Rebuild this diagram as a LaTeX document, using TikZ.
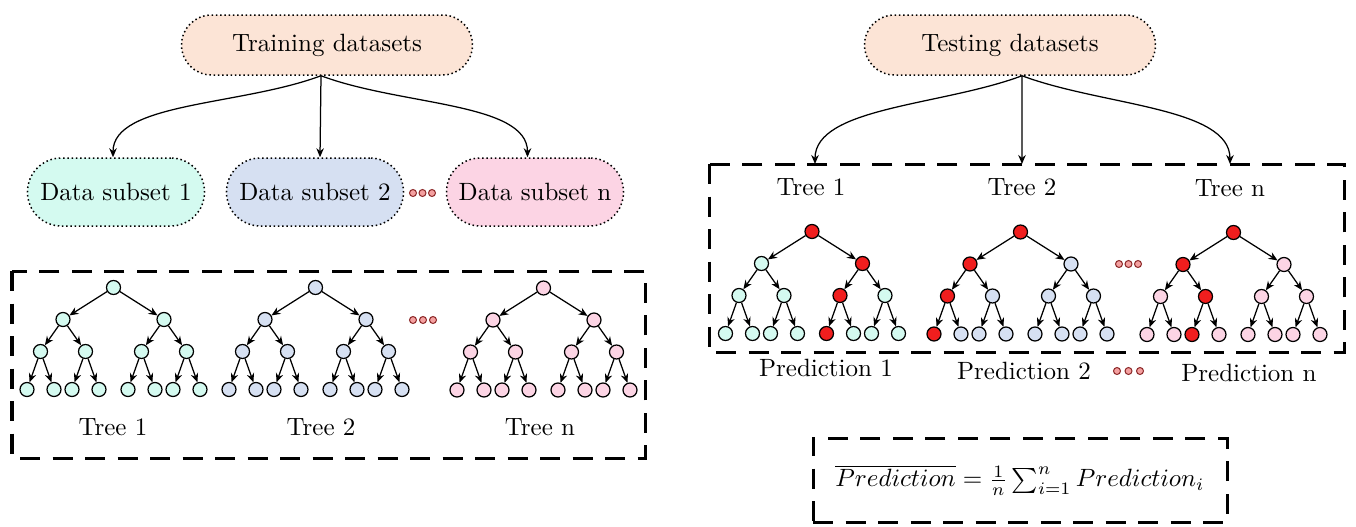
\documentclass[tikz,border=0pt]{standalone}
\usetikzlibrary{arrows.meta,calc}
\definecolor{peach}{RGB}{252,228,214}
\definecolor{cyanl}{RGB}{212,250,240}
\definecolor{bluel}{RGB}{214,224,242}
\definecolor{pinkl}{RGB}{252,212,228}
\definecolor{treered}{RGB}{240,30,30}
\definecolor{dotfill}{RGB}{244,160,160}
\definecolor{dotline}{RGB}{140,40,40}
\tikzset{
  tn/.style={circle,draw,line width=0.5pt,minimum size=5.6pt,inner sep=0pt},
  arr/.style={-{Stealth[length=3.6pt,width=3pt]},line width=0.5pt},
  dotted border/.style={draw,line width=0.6pt,dash pattern=on 0.6pt off 1.1pt},
  topnode/.style={dotted border,rounded corners=12pt,fill=peach,minimum width=116.4pt,minimum height=24pt,inner sep=0pt},
  dsnode/.style={dotted border,rounded corners=13.5pt,minimum width=70.8pt,minimum height=27.2pt,inner sep=0pt},
  bigbox/.style={line width=1.2pt,dash pattern=on 8pt off 5pt},
  dotn/.style={circle,draw=dotline,fill=dotfill,line width=0.4pt,minimum size=2.8pt,inner sep=0pt},
}
\newcommand\setred[1]{\expandafter\def\csname red#1\endcsname{}}
\newcommand\colfor[3]{\ifcsname red#1#2\endcsname\def\tf{treered}\else\def\tf{#3}\fi}
\newcommand{\drawtree}[4]{%
  \colfor{#1}{}{#4}%
  \node[tn,fill=\tf] (#1) at (#2,#3) {};
  \foreach \ka/\xa in {a/-50.5,b/50.5}{
    \colfor{#1}{\ka}{#4}
    \node[tn,fill=\tf] (#1\ka) at ($(#1)+(\xa,32)$) {};
    \draw[arr] (#1) -- (#1\ka);
    \foreach \kb/\xb in {a/-22.5,b/22.5}{
      \colfor{#1}{\ka\kb}{#4}
      \node[tn,fill=\tf] (#1\ka\kb) at ($(#1\ka)+(\xb,32)$) {};
      \draw[arr] (#1\ka) -- (#1\ka\kb);
      \foreach \kc/\xc in {a/-13.5,b/13.5}{
        \colfor{#1}{\ka\kb\kc}{#4}
        \node[tn,fill=\tf] (#1\ka\kb\kc) at ($(#1\ka\kb)+(\xc,38)$) {};
        \draw[arr] (#1\ka\kb) -- (#1\ka\kb\kc);
      }
    }
  }
}
\setred{P}\setred{Pb}\setred{Pba}\setred{Pbaa}
\setred{Q}\setred{Qa}\setred{Qaa}\setred{Qaaa}
\setred{R}\setred{Ra}\setred{Rab}\setred{Raba}
\begin{document}
\begin{tikzpicture}[x=0.4pt,y=-0.4pt]
\useasboundingbox (0,0) rectangle (1356,527);
% top nodes
\node[topnode] (train) at (327,45) {Training datasets};
\node[topnode] (test) at (1010,45) {Testing datasets};
% data subsets
\node[dsnode,fill=cyanl] (ds1) at (116,192) {Data subset 1};
\node[dsnode,fill=bluel] (ds2) at (315,192) {Data subset 2};
\node[dsnode,fill=pinkl] (dsn) at (535,192) {Data subset n};
\node[dotn] (t1) at (413,193) {};
\node[dotn] (t2) at (422.5,193) {};
\node[dotn] (t3) at (432,193) {};
% training connectors
\draw[arr] ([xshift=-2.4pt]train.south) .. controls +(-80,30) and +(0,-55) .. ([xshift=-1.2pt]ds1.north);
\draw[arr] ([xshift=-2.4pt]train.south) -- ([xshift=2pt]ds2.north);
\draw[arr] ([xshift=-2.4pt]train.south) .. controls +(80,30) and +(0,-55) .. ([xshift=-3pt]dsn.north);
% left box
\draw[bigbox] (12,271) rectangle (645,458);
\drawtree{A}{113.5}{287.5}{cyanl}
\drawtree{B}{315.5}{287.5}{bluel}
\drawtree{C}{543.5}{288}{pinkl}
\node[dotn] (l1) at (413,320) {};
\node[dotn] (l2) at (423,320) {};
\node[dotn] (l3) at (433,320) {};
\node (lA) at (113,427) {Tree 1};
\node (lB) at (321,427) {Tree 2};
\node (lC) at (540,427) {Tree n};
% right box
\draw[bigbox] (709,164) rectangle (1344,352);
\coordinate (r1) at (815,164);
\coordinate (r2) at (1022,164);
\coordinate (r3) at (1230,164);
\draw[arr] ([xshift=4.8pt]test.south) .. controls +(-80,30) and +(0,-57) .. (r1);
\draw[arr] ([xshift=4.8pt]test.south) -- (r2);
\draw[arr] ([xshift=4.8pt]test.south) .. controls +(80,30) and +(0,-57) .. (r3);
\node (rA) at (811,187) {Tree 1};
\node (rB) at (1022,187) {Tree 2};
\node (rC) at (1230,188) {Tree n};
\drawtree{P}{812}{231.5}{cyanl}
\drawtree{Q}{1020.5}{232}{bluel}
\drawtree{R}{1233.5}{232.5}{pinkl}
\node[dotn] (m1) at (1119,264) {};
\node[dotn] (m2) at (1128.5,264) {};
\node[dotn] (m3) at (1138,264) {};
% predictions
\node (p1) at (826,368) {Prediction 1};
\node (p2) at (1024,371) {Prediction 2};
\node (pn) at (1249,373) {Prediction n};
\node[dotn] (q1) at (1117,371) {};
\node[dotn] (q2) at (1128.5,371) {};
\node[dotn] (q3) at (1140,371) {};
% formula
\node[draw,bigbox,minimum width=165.6pt,minimum height=33.6pt] (form) at (1020,480)
  {$\overline{Prediction}=\frac{1}{n}\sum_{i=1}^{n}Prediction_i$};
\end{tikzpicture}
\end{document}
